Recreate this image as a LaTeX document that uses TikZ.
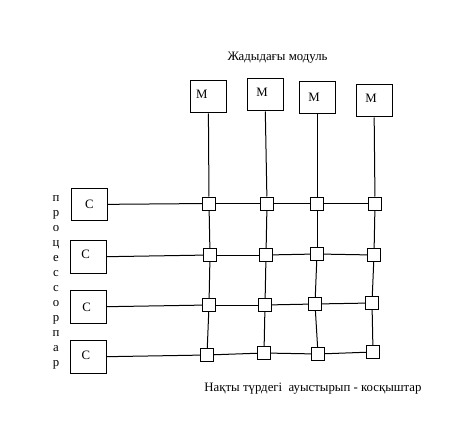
\documentclass[tikz,border=0pt]{standalone}
\usepackage{fontspec}
\setmainfont{Liberation Serif}

\begin{document}
\begin{tikzpicture}[x=0.75pt, y=-0.75pt, line width=0.75pt,
    every node/.style={font=\fontsize{9.6}{11.25}\selectfont},
    module/.style={draw, minimum width=27pt, minimum height=24pt, inner sep=0pt},
    cpu/.style={draw, minimum width=27pt, minimum height=24.5pt, inner sep=0pt},
    switch/.style={draw, fill=white, minimum size=9.75pt, inner sep=0pt}]
\useasboundingbox (0,0) rectangle (456,431);

% memory modules
\foreach \name/\x/\y/\dx/\dy in {m1/208.3/97/-6.5/-3, m2/265/95/-3/-2.5,
                                m3/317/98/-3/-1, m4/374/101/-3/-3}
    \node[module, label={[shift={(\dx,\dy)}]center:М}] (\name) at (\x,\y) {};

% processors
\foreach \name/\x/\y/\dx/\dy in {c1/89.3/204.5/0/0, c2/88/257/-2.3/-3,
                                c3/88/307/-1.3/0, c4/88/357/-2/-2}
    \node[cpu, label={[shift={(\dx,\dy)}]center:С}] (\name) at (\x,\y) {};

% crossbar switches
\foreach \name/\x/\y in {s11/209/203.5, s12/267/203.5, s13/317/203.5, s14/375/203.5,
                         s21/210/255,   s22/266/255,   s23/317/254,   s24/374/255,
                         s31/209/305,   s32/265/305,   s33/315/304,   s34/372/303,
                         s41/207/355,   s42/264/353,   s43/318/354,   s44/373/352}
    \node[switch] (\name) at (\x,\y) {};

\foreach \i in {1,...,4} {
    \draw (m\i) -- (s1\i);
    \draw (c\i) -- (s\i1);
}
\foreach \i in {1,...,4}
    \foreach \j/\k in {1/2,2/3,3/4} {
        \draw (s\i\j) -- (s\i\k);
        \draw (s\j\i) -- (s\k\i);
    }

% labels
\node (title) at (277.5,58) {Жадыдағы модуль};
\node[align=center] (proc) at (56,282.5) {п\\р\\о\\ц\\е\\с\\с\\о\\р\\п\\а\\р};
\node (xbar) at (313,389) {Нақты түрдегі\ \ ауыстырып - косқыштар};
\end{tikzpicture}
\end{document}
